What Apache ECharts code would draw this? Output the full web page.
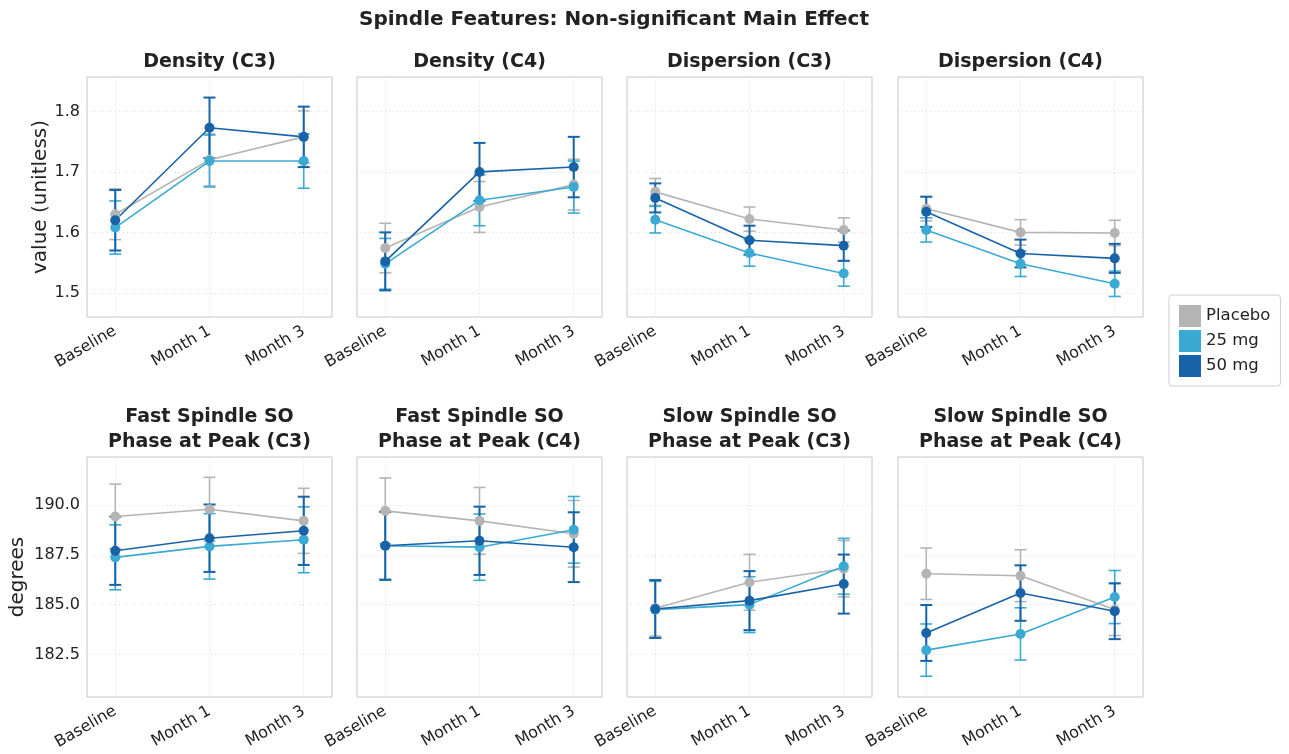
<!DOCTYPE html>
<html>
<head>
<meta charset="utf-8">
<script src="https://cdn.jsdelivr.net/npm/echarts@6/dist/echarts.min.js"></script>
<style>
  html, body { margin: 0; padding: 0; background: #fff; }
  #chart { width: 1289px; height: 754px; }
</style>
</head>
<body>
<div id="chart"></div>
<script>
// x categories and groups
var categories = ['Baseline', 'Month 1', 'Month 3'];
var groups = ['Placebo', '25 mg', '50 mg'];
var groupColors = ['#b4b4b4', '#3aa9d3', '#1863a8'];

// row 1 ticks / row 2 ticks
var ticksTop = [1.5, 1.6, 1.7, 1.8];
var ticksBottom = [182.5, 185.0, 187.5, 190.0];

// each panel: rows = Placebo, 25 mg, 50 mg ; columns = Baseline, Month 1, Month 3
var densityC3Mean = [[1.630, 1.720, 1.758], [1.608, 1.718, 1.718], [1.620, 1.773, 1.758]];
var densityC3Err  = [[0.042, 0.043, 0.043], [0.044, 0.043, 0.045], [0.050, 0.050, 0.050]];

var densityC4Mean = [[1.574, 1.642, 1.679], [1.548, 1.653, 1.675], [1.552, 1.700, 1.708]];
var densityC4Err  = [[0.041, 0.042, 0.042], [0.042, 0.042, 0.043], [0.048, 0.048, 0.050]];

var dispersionC3Mean = [[1.667, 1.622, 1.604], [1.621, 1.566, 1.532], [1.657, 1.587, 1.578]];
var dispersionC3Err  = [[0.022, 0.020, 0.020], [0.022, 0.022, 0.021], [0.024, 0.024, 0.025]];

var dispersionC4Mean = [[1.639, 1.600, 1.599], [1.604, 1.548, 1.515], [1.634, 1.565, 1.557]];
var dispersionC4Err  = [[0.020, 0.021, 0.021], [0.020, 0.021, 0.021], [0.025, 0.023, 0.024]];

var fastC3Mean = [[189.42, 189.78, 189.20], [187.37, 187.92, 188.25], [187.70, 188.33, 188.70]];
var fastC3Err  = [[1.62, 1.60, 1.63], [1.63, 1.64, 1.65], [1.71, 1.69, 1.71]];

var fastC4Mean = [[189.70, 189.20, 188.55], [187.95, 187.88, 188.75], [187.95, 188.20, 187.88]];
var fastC4Err  = [[1.65, 1.67, 1.67], [1.68, 1.66, 1.67], [1.71, 1.71, 1.75]];

var slowC3Mean = [[184.82, 186.12, 186.80], [184.75, 185.00, 186.92], [184.78, 185.20, 186.03]];
var slowC3Err  = [[1.40, 1.40, 1.41], [1.42, 1.40, 1.40], [1.45, 1.48, 1.48]];

var slowC4Mean = [[186.55, 186.45, 184.75], [182.72, 183.53, 185.38], [183.58, 185.58, 184.67]];
var slowC4Err  = [[1.29, 1.30, 1.30], [1.31, 1.31, 1.33], [1.40, 1.39, 1.40]];

var panels = [
    { title: 'Density (C3)', mean: densityC3Mean, err: densityC3Err, row: 0 },
    { title: 'Density (C4)', mean: densityC4Mean, err: densityC4Err, row: 0 },
    { title: 'Dispersion (C3)', mean: dispersionC3Mean, err: dispersionC3Err, row: 0 },
    { title: 'Dispersion (C4)', mean: dispersionC4Mean, err: dispersionC4Err, row: 0 },
    { title: 'Fast Spindle SO\nPhase at Peak (C3)', mean: fastC3Mean, err: fastC3Err, row: 1 },
    { title: 'Fast Spindle SO\nPhase at Peak (C4)', mean: fastC4Mean, err: fastC4Err, row: 1 },
    { title: 'Slow Spindle SO\nPhase at Peak (C3)', mean: slowC3Mean, err: slowC3Err, row: 1 },
    { title: 'Slow Spindle SO\nPhase at Peak (C4)', mean: slowC4Mean, err: slowC4Err, row: 1 }
];

var FONT = '"DejaVu Sans", sans-serif';
var TEXT = '#222';
var gridLefts = [87, 357, 627, 898];
var gridW = 245, gridH = 240;
var gridTops = [77, 457];
var rowRange = [[1.460, 1.857], [180.37, 192.40]];
var rowTicks = [ticksTop, ticksBottom];
var rowNames = ['value (unitless)', 'degrees'];
var rowNameGap = [30, 59];

var chart = echarts.init(document.getElementById('chart'));

var grids = [], xAxes = [], yAxes = [], series = [];
var titles = [{
    text: 'Spindle Features: Non-significant Main Effect',
    left: 614, top: 8, padding: 0, textAlign: 'center',
    textStyle: { fontFamily: FONT, fontSize: 20, fontWeight: 'bold', color: TEXT, lineHeight: 24 }
}];

function errRender(color, lw) {
    return function (params, api) {
        var x = api.value(0);
        var top = api.coord([x, api.value(2)]);
        var bot = api.coord([x, api.value(1)]);
        var hw = 6;
        var st = { stroke: color, lineWidth: lw };
        return {
            type: 'group',
            children: [
                { type: 'line', shape: { x1: top[0], y1: top[1], x2: bot[0], y2: bot[1] }, style: st },
                { type: 'line', shape: { x1: top[0] - hw, y1: top[1], x2: top[0] + hw, y2: top[1] }, style: st },
                { type: 'line', shape: { x1: bot[0] - hw, y1: bot[1], x2: bot[0] + hw, y2: bot[1] }, style: st }
            ]
        };
    };
}

panels.forEach(function (p, i) {
    var col = i % 4;
    var left = gridLefts[col];
    var top = gridTops[p.row];
    grids.push({
        left: left, top: top, width: gridW, height: gridH,
        show: true, borderColor: '#c6c6c6', borderWidth: 1,
        outerBoundsMode: 'none', containLabel: false
    });
    var twoLine = p.row === 1;
    titles.push({
        text: p.title,
        left: left + gridW / 2, top: twoLine ? 405 : 50, padding: 0, textAlign: 'center',
        textStyle: { fontFamily: FONT, fontSize: 19, fontWeight: 'bold', color: TEXT, lineHeight: 25, align: 'center' }
    });
    xAxes.push({
        gridIndex: i, type: 'value', min: -0.3, max: 2.3,
        axisLine: { show: false },
        axisTick: { show: false, customValues: [0, 1, 2] },
        axisLabel: {
            customValues: [0, 1, 2], rotate: 30, margin: 13,
            fontFamily: FONT, fontSize: 16, color: TEXT,
            formatter: function (v) { return categories[Math.round(v)]; }
        },
        splitLine: { show: true, lineStyle: { color: '#dcdcdc', type: [1, 3], width: 1 } }
    });
    var showY = col === 0;
    yAxes.push({
        gridIndex: i, type: 'value', min: rowRange[p.row][0], max: rowRange[p.row][1],
        name: showY ? rowNames[p.row] : '', nameLocation: 'middle', nameGap: rowNameGap[p.row],
        nameTextStyle: { fontFamily: FONT, fontSize: 20, color: TEXT },
        axisLine: { show: false },
        axisTick: { show: false, customValues: rowTicks[p.row] },
        axisLabel: {
            show: showY, customValues: rowTicks[p.row], margin: 7,
            fontFamily: FONT, fontSize: 16, color: TEXT,
            formatter: function (v) { return v.toFixed(1); }
        },
        splitLine: { show: true, lineStyle: { color: '#dcdcdc', type: [1, 3], width: 1 } }
    });
    for (var g = 0; g < 3; g++) {
        var errData = [], lineData = [];
        for (var k = 0; k < categories.length; k++) {
            errData.push([k, p.mean[g][k] - p.err[g][k], p.mean[g][k] + p.err[g][k]]);
            lineData.push([k, p.mean[g][k]]);
        }
        series.push({
            type: 'custom', name: groups[g], xAxisIndex: i, yAxisIndex: i,
            renderItem: errRender(groupColors[g], g === 2 ? 2 : 1.6),
            encode: { x: 0, y: [1, 2] },
            itemStyle: { color: groupColors[g] },
            data: errData, silent: true, animation: false
        });
        series.push({
            type: 'line', name: groups[g], xAxisIndex: i, yAxisIndex: i,
            data: lineData, symbol: 'circle', symbolSize: 10,
            itemStyle: { color: groupColors[g] },
            lineStyle: { color: groupColors[g], width: 1.6 },
            animation: false
        });
    }
});

var option = {
    backgroundColor: '#fff',
    title: titles,
    legend: {
        data: groups.map(function (g, i) { return { name: g, itemStyle: { color: groupColors[i] } }; }),
        orient: 'vertical', left: 1169, top: 295,
        padding: [10, 10, 9, 10], itemGap: 3, itemWidth: 22, itemHeight: 22,
        icon: 'rect', borderColor: '#cfcfcf', borderWidth: 1, borderRadius: 3,
        textStyle: { fontFamily: FONT, fontSize: 16.5, color: TEXT }
    },
    grid: grids,
    xAxis: xAxes,
    yAxis: yAxes,
    series: series
};
chart.setOption(option);
</script>
</body>
</html>
